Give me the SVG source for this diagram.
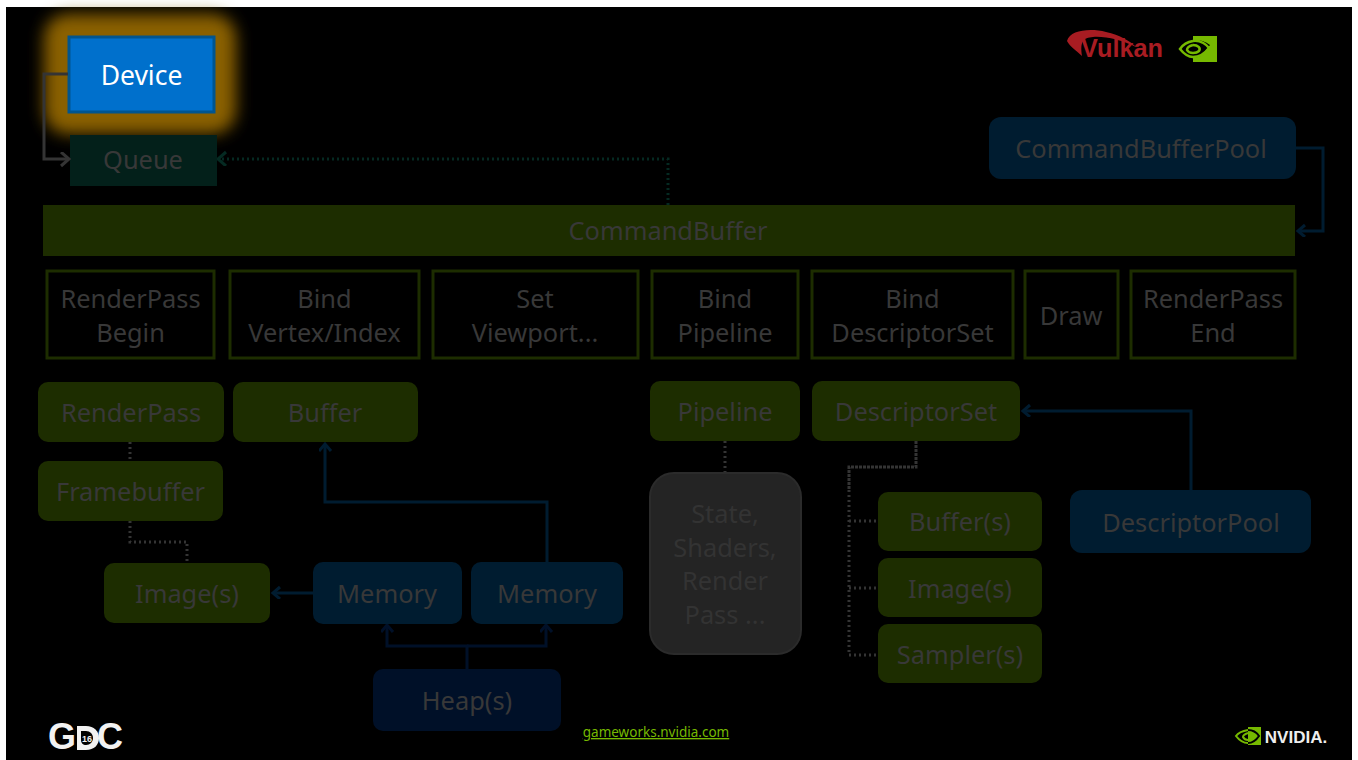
<svg xmlns="http://www.w3.org/2000/svg" width="1358" height="760" viewBox="0 0 1358 760">
<style>
text{font-family:"Noto Sans","Open Sans","DejaVu Sans",sans-serif;font-size:25.400px;text-anchor:middle;fill:#383838}
.g{fill:#1d2d00}
.b{fill:#001c30}
.o{fill:#000;stroke:#1d2d00;stroke-width:3}
.c{fill:none;stroke:#001c30;stroke-width:3}
.h{fill:none;stroke:#001028;stroke-width:3}
.d{fill:none;stroke:#343434;stroke-width:3;stroke-dasharray:2 3}
.logo{font-family:"Liberation Sans",sans-serif;font-weight:700}
</style>
<defs>
<filter id="glow" x="-40%" y="-40%" width="180%" height="180%"><feGaussianBlur stdDeviation="8"/></filter>
<marker id="ab" markerWidth="14" markerHeight="14" refX="11" refY="6" orient="auto" markerUnits="userSpaceOnUse"><path d="M4 0L11 6L4 12" fill="none" stroke="#001c30" stroke-width="3"/></marker>
<marker id="ah" markerWidth="14" markerHeight="14" refX="11" refY="6" orient="auto" markerUnits="userSpaceOnUse"><path d="M4 0L11 6L4 12" fill="none" stroke="#001028" stroke-width="3"/></marker>
<marker id="aq" markerWidth="16" markerHeight="16" refX="13" refY="7" orient="auto" markerUnits="userSpaceOnUse"><path d="M5 0L13 7L5 14" fill="none" stroke="#343434" stroke-width="3"/></marker>
<marker id="at" markerWidth="16" markerHeight="16" refX="13" refY="7" orient="auto" markerUnits="userSpaceOnUse"><path d="M5 0L13 7L5 14" fill="none" stroke="#052a22" stroke-width="3"/></marker>
</defs>
<rect width="1358" height="760" fill="#fff"/>
<rect x="6" y="7" width="1346" height="753" fill="#000"/>
<g id="device-glow"><rect x="44" y="14" width="192" height="120" rx="24" fill="#8a6100" filter="url(#glow)"/></g>
<g id="connectors">
<path class="c" marker-end="url(#ab)" d="M1296 148H1323V231H1298"/>
<path class="c" marker-end="url(#ab)" d="M547 562V502H325V444"/>
<path class="c" marker-end="url(#ab)" d="M313 593H273"/>
<path class="h" marker-end="url(#ah)" d="M467 669V646H387V625"/>
<path class="h" marker-end="url(#ah)" d="M467 646H546V625"/>
<path class="c" marker-end="url(#ab)" d="M1191 490V411H1023"/>
<path class="d" d="M130 442V462"/>
<path class="d" d="M130 521V542H187V563"/>
<path class="d" d="M725 441V472"/>
<path class="d" style="stroke-dasharray:3 1" d="M916 441V467H849V490"/>
<path class="d" d="M849 490V655H878"/>
<path class="d" d="M849 521H878"/>
<path class="d" d="M849 588H878"/>
<path class="d" style="stroke:#052a22" marker-end="url(#at)" d="M668 205V159H218"/>
</g>
<g id="queue"><rect x="70" y="135" width="147" height="51" fill="#03201a"/><text x="143" y="169">Queue</text></g>
<g id="device">
<rect x="69" y="37" width="145" height="75" fill="#0070cc" stroke="#00558f" stroke-width="3"/>
<text x="141.500" y="85" style="fill:#fff;font-size:26.500px">Device</text>
</g>
<path fill="none" stroke="#343434" stroke-width="3" marker-end="url(#aq)" d="M68 74H44V159H69"/>
<g id="commandbufferpool"><rect class="b" x="989" y="117" width="307" height="62" rx="12"/><text x="1141" y="158">CommandBufferPool</text></g>
<g id="commandbuffer"><rect class="g" x="43" y="205" width="1252" height="51"/><text x="668" y="240">CommandBuffer</text></g>
<g id="renderpass-begin"><rect class="o" x="47" y="271" width="167" height="87"/><text x="130.500" y="308">RenderPass</text><text x="130.500" y="342">Begin</text></g>
<g id="bind-vertex"><rect class="o" x="230" y="271" width="189" height="87"/><text x="324.500" y="308">Bind</text><text x="324.500" y="342">Vertex/Index</text></g>
<g id="set-viewport"><rect class="o" x="433" y="271" width="205" height="87"/><text x="535" y="308">Set</text><text x="535" y="342">Viewport...</text></g>
<g id="bind-pipeline"><rect class="o" x="652" y="271" width="146" height="87"/><text x="725" y="308">Bind</text><text x="725" y="342">Pipeline</text></g>
<g id="bind-descriptorset"><rect class="o" x="812" y="271" width="201" height="87"/><text x="912.500" y="308">Bind</text><text x="912.500" y="342">DescriptorSet</text></g>
<g id="draw"><rect class="o" x="1025" y="271" width="93" height="87"/><text x="1071" y="325">Draw</text></g>
<g id="renderpass-end"><rect class="o" x="1131" y="271" width="164" height="87"/><text x="1213" y="308">RenderPass</text><text x="1213" y="342">End</text></g>
<g id="renderpass"><rect class="g" x="38" y="382" width="186" height="60" rx="10"/><text x="131" y="422">RenderPass</text></g>
<g id="buffer"><rect class="g" x="233" y="382" width="185" height="60" rx="10"/><text x="325" y="422">Buffer</text></g>
<g id="pipeline"><rect class="g" x="650" y="381" width="150" height="60" rx="10"/><text x="725" y="421">Pipeline</text></g>
<g id="descriptorset"><rect class="g" x="812" y="381" width="208" height="60" rx="10"/><text x="916" y="421">DescriptorSet</text></g>
<g id="framebuffer"><rect class="g" x="38" y="461" width="185" height="60" rx="10"/><text x="130.500" y="501">Framebuffer</text></g>
<g id="images-left"><rect class="g" x="104" y="563" width="166" height="60" rx="10"/><text x="187" y="603">Image(s)</text></g>
<g id="memory-1"><rect class="b" x="313" y="562" width="149" height="62" rx="10"/><text x="387" y="603">Memory</text></g>
<g id="memory-2"><rect class="b" x="471" y="562" width="152" height="62" rx="10"/><text x="547" y="603">Memory</text></g>
<g id="heaps"><rect x="373" y="669" width="188" height="62" rx="10" fill="#001028"/><text x="467" y="710">Heap(s)</text></g>
<g id="state"><rect x="650" y="473" width="151" height="181" rx="24" fill="#242424" stroke="#2b2b2b" stroke-width="2"/>
<text x="725" y="523" style="fill:#333">State,</text><text x="725" y="557" style="fill:#333">Shaders,</text><text x="725" y="590" style="fill:#333">Render</text><text x="725" y="624" style="fill:#333">Pass ...</text></g>
<g id="buffers"><rect class="g" x="878" y="492" width="164" height="59" rx="10"/><text x="960" y="531">Buffer(s)</text></g>
<g id="images-right"><rect class="g" x="878" y="558" width="164" height="59" rx="10"/><text x="960" y="598">Image(s)</text></g>
<g id="samplers"><rect class="g" x="878" y="624" width="164" height="59" rx="10"/><text x="960" y="664">Sampler(s)</text></g>
<g id="descriptorpool"><rect class="b" x="1070" y="490" width="241" height="63" rx="12"/><text x="1191" y="532">DescriptorPool</text></g>
<g id="vulkan-logo">
<path d="M1067 41C1070 30 1090 28 1106 32C1120 35 1130 41 1136 47C1122 40 1105 36 1093 37C1083 38 1080 41 1082 56C1076 50 1070 47 1067 41Z" fill="#a81c22"/>
<text class="logo" x="1122" y="57" textLength="82" lengthAdjust="spacingAndGlyphs" style="font-size:25px;fill:#a81c22">Vulkan</text>
</g>
<g id="nvidia-mark">
<rect x="1193" y="36" width="24" height="26" fill="#76b900"/>
<path d="M1179 49C1187 39 1199 37 1210 45L1202 55C1195 60 1186 58 1179 49Z" fill="#000"/>
<path d="M1193 41C1186 42 1182 46 1180 49C1184 54 1188 57 1193 57M1193 45C1189 46 1187 48 1187 50C1188 52 1190 53 1193 53" fill="none" stroke="#76b900" stroke-width="2.500"/>
<path d="M1193 41C1201 40 1207 45 1209 48C1206 52 1200 57 1193 57M1193 45C1198 45 1201 48 1199 51C1197 53 1195 53 1193 53" fill="none" stroke="#76b900" stroke-width="2.500"/>
</g>
<g id="gdc-logo">
<text class="logo" x="62" y="749" style="font-size:36px;fill:#f2f2f2">G</text>
<path d="M77 726H86C94 726 99 731 99 738C99 745 94 750 86 750H77Z" fill="#f2f2f2"/>
<path d="M81 731H86C90 731 93 734 93 738C93 742 90 745 86 745C83 745 81 743 81 740Z" fill="#000"/>
<text class="logo" x="87" y="742" style="font-size:9px;fill:#f2f2f2">16</text>
<text class="logo" x="110" y="749" style="font-size:36px;fill:#f2f2f2">C</text>
</g>
<g id="link"><text x="656" y="737" style="font-size:13.500px;fill:#76b900;text-decoration:underline">gameworks.nvidia.com</text></g>
<g id="nvidia-logo">
<rect x="1248" y="727" width="13" height="18" fill="#76b900"/>
<path d="M1248 730C1242 731 1238 733 1236 736C1239 740 1243 743 1248 743M1248 733C1245 734 1243 735 1243 737C1244 739 1246 740 1248 740" fill="none" stroke="#76b900" stroke-width="2"/>
<path d="M1248 730C1253 730 1257 733 1259 736C1257 739 1253 743 1248 743" fill="none" stroke="#000" stroke-width="2"/>
<text class="logo" x="1296" y="743" style="font-size:17px;fill:#eee">NVIDIA.</text>
</g>
</svg>
